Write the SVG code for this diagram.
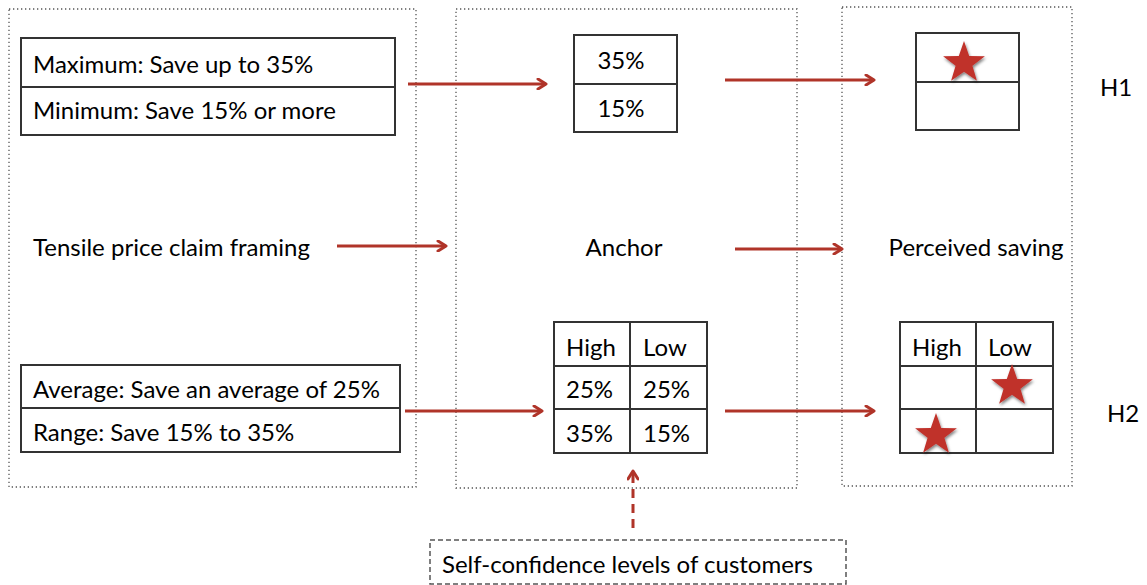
<svg xmlns="http://www.w3.org/2000/svg" width="1147" height="585" viewBox="0 0 1147 585">
  <style>
    .frame { fill: none; stroke: #555; stroke-width: 1.3; stroke-dasharray: 1.3 2.7; }
    .cell { fill: #fff; stroke: #333; stroke-width: 2; }
    .grid { stroke: #333; stroke-width: 2; }
    .t { font-family: Lato, "Open Sans", sans-serif; font-size: 24px; fill: #000; }
    .c { text-anchor: middle; }
    .arrow { fill: none; stroke: #b03429; stroke-width: 3; marker-end: url(#head); }
    .dashed { stroke-dasharray: 9 6; }
    .star { fill: #c0302a; filter: url(#shadow); }
  </style>
  <defs>
    <marker id="head" viewBox="0 0 12 12" refX="10" refY="6" markerWidth="12" markerHeight="12" markerUnits="userSpaceOnUse" orient="auto">
      <path d="M2 1 L10 6 L2 11" fill="none" stroke="#b03429" stroke-width="3" stroke-linecap="round" stroke-linejoin="round"/>
    </marker>
    <filter id="shadow" x="-30%" y="-30%" width="160%" height="160%">
      <feDropShadow dx="1" dy="2" stdDeviation="1.5" flood-color="#000" flood-opacity="0.5"/>
    </filter>
    <path id="starShape" d="M0,-22 L5.2,-7.1 L20.9,-6.8 L8.4,2.7 L12.9,17.8 L0,8.8 L-12.9,17.8 L-8.4,2.7 L-20.9,-6.8 L-5.2,-7.1 Z"/>
  </defs>

  <!-- framing column -->
  <g id="framing">
    <rect class="frame" x="9" y="9" width="407" height="478"/>
    <g id="framing-h1">
      <rect class="cell" x="21" y="38" width="374" height="97"/>
      <line class="grid" x1="21" y1="87" x2="395" y2="87"/>
      <text class="t" x="33" y="73">Maximum: Save up to 35%</text>
      <text class="t" x="33" y="119">Minimum: Save 15% or more</text>
    </g>
    <text id="framing-label" class="t" x="33" y="256">Tensile price claim framing</text>
    <g id="framing-h2">
      <rect class="cell" x="21" y="365" width="379" height="87"/>
      <line class="grid" x1="21" y1="408" x2="400" y2="408"/>
      <text class="t" x="33" y="398">Average: Save an average of 25%</text>
      <text class="t" x="33" y="441">Range: Save 15% to 35%</text>
    </g>
  </g>

  <!-- anchor column -->
  <g id="anchor">
    <rect class="frame" x="456" y="9" width="341" height="479"/>
    <g id="anchor-h1">
      <rect class="cell" x="574" y="35" width="103" height="97"/>
      <line class="grid" x1="574" y1="84" x2="677" y2="84"/>
      <text class="t c" x="621" y="69">35%</text>
      <text class="t c" x="621" y="117">15%</text>
    </g>
    <text id="anchor-label" class="t c" x="624" y="256">Anchor</text>
    <g id="anchor-h2">
      <rect class="cell" x="554" y="322" width="153" height="131"/>
      <line class="grid" x1="630" y1="322" x2="630" y2="453"/>
      <line class="grid" x1="554" y1="366" x2="707" y2="366"/>
      <line class="grid" x1="554" y1="409" x2="707" y2="409"/>
      <text class="t" x="566" y="356">High</text>
      <text class="t" x="643" y="356">Low</text>
      <text class="t" x="566" y="398">25%</text>
      <text class="t" x="643" y="398">25%</text>
      <text class="t" x="566" y="442">35%</text>
      <text class="t" x="643" y="442">15%</text>
    </g>
  </g>

  <!-- perceived saving column -->
  <g id="saving">
    <rect class="frame" x="842" y="7" width="230" height="479"/>
    <g id="saving-h1">
      <rect class="cell" x="916" y="33" width="103" height="97"/>
      <line class="grid" x1="916" y1="82" x2="1019" y2="82"/>
      <use href="#starShape" class="star" x="964" y="63"/>
    </g>
    <text id="saving-label" class="t c" x="976" y="256">Perceived saving</text>
    <g id="saving-h2">
      <rect class="cell" x="900" y="322" width="153" height="131"/>
      <line class="grid" x1="976" y1="322" x2="976" y2="453"/>
      <line class="grid" x1="900" y1="366" x2="1053" y2="366"/>
      <line class="grid" x1="900" y1="409" x2="1053" y2="409"/>
      <text class="t" x="912" y="356">High</text>
      <text class="t" x="988" y="356">Low</text>
      <use href="#starShape" class="star" x="1012" y="386"/>
      <use href="#starShape" class="star" x="936" y="435"/>
    </g>
  </g>

  <g id="hypotheses">
    <text id="h1" class="t" x="1100" y="96">H1</text>
    <text id="h2" class="t" x="1107" y="422">H2</text>
  </g>

  <!-- moderator -->
  <g id="moderator">
    <rect x="430" y="540" width="416" height="44" fill="none" stroke="#555" stroke-width="1.5" stroke-dasharray="5 3"/>
    <text class="t" x="442" y="573">Self-confidence levels of customers</text>
  </g>

  <!-- connectors -->
  <g id="connectors">
    <line class="arrow" x1="408" y1="84" x2="546" y2="84"/>
    <line class="arrow" x1="725" y1="80" x2="874" y2="80"/>
    <line class="arrow" x1="337" y1="246" x2="446" y2="246"/>
    <line class="arrow" x1="735" y1="249" x2="842" y2="249"/>
    <line class="arrow" x1="405" y1="411" x2="542" y2="411"/>
    <line class="arrow" x1="725" y1="411" x2="874" y2="411"/>
    <line class="arrow dashed" x1="633" y1="528" x2="633" y2="471"/>
  </g>
</svg>
